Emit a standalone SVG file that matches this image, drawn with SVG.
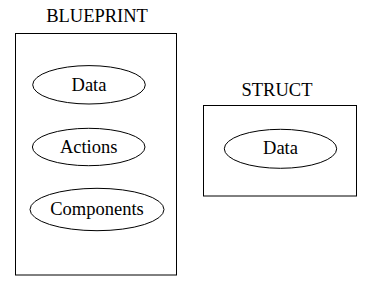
<svg xmlns="http://www.w3.org/2000/svg" width="370" height="289" viewBox="0 0 370 289">
<style>
text{font-family:"Liberation Serif","Times New Roman",serif;font-size:18.5px;fill:#000;text-anchor:middle}
.c{fill:none;stroke:#000;stroke-width:1}
.n{fill:none;stroke:#000;stroke-width:1}
</style>
<rect width="370" height="289" fill="#fff"/>
<g id="cluster_blueprint">
<rect class="c" x="15.5" y="33.5" width="161" height="241.5"/>
<text x="97" y="22">BLUEPRINT</text>
</g>
<g id="cluster_struct">
<rect class="c" x="203.5" y="105.5" width="153" height="90.5"/>
<text x="277" y="96">STRUCT</text>
</g>
<g id="bp_data">
<ellipse class="n" cx="89" cy="84.8" rx="56.3" ry="19.2"/>
<text x="89" y="90.5">Data</text>
</g>
<g id="bp_actions">
<ellipse class="n" cx="88.7" cy="147" rx="56.3" ry="18.7"/>
<text x="88.7" y="152.5">Actions</text>
</g>
<g id="bp_components">
<ellipse class="n" cx="97" cy="209.5" rx="67" ry="21.2"/>
<text x="97" y="215">Components</text>
</g>
<g id="st_data">
<ellipse class="n" cx="280.5" cy="148.8" rx="56.2" ry="19.5"/>
<text x="280.5" y="154">Data</text>
</g>
<g id="connectors"></g>
</svg>
